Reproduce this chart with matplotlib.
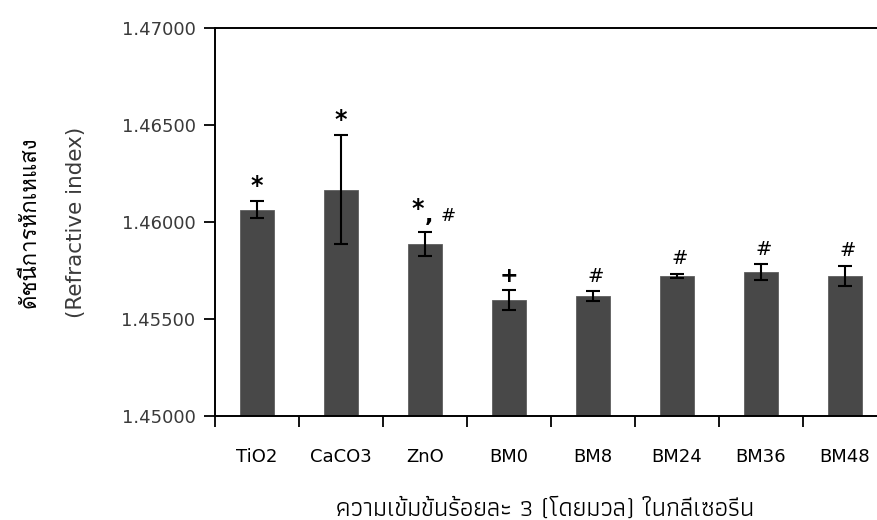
import matplotlib
matplotlib.use('Agg')
from matplotlib import pyplot as plt

categories = ['TiO2', 'CaCO3', 'ZnO', 'BM0', 'BM8', 'BM24', 'BM36', 'BM48']
values = [1.46064, 1.46167, 1.45888, 1.45598, 1.45617, 1.45721, 1.45741, 1.45721]
errors = [0.00046, 0.00280, 0.00062, 0.00051, 0.00025, 0.00011, 0.00041, 0.00052]
marks = ['*', '*', '*,#', '+', '#', '#', '#', '#']
y_ticks = [1.450, 1.455, 1.460, 1.465, 1.470]

thai_x = ['Athiti', 'Loma', 'DejaVu Sans']
thai_y = ['Loma', 'DejaVu Sans']

fig = plt.figure(figsize=(8.77, 5.2), dpi=100)
ax = fig.add_axes([0.2452, 0.2, 0.766, 0.7462])

x = list(range(len(categories)))
ax.bar(x, values, width=0.4, color='#484848', edgecolor='#5e5e5e', linewidth=0.6)
ax.errorbar(x, values, yerr=errors, fmt='none', ecolor='black', elinewidth=1.5,
            capsize=4.7, capthick=1.5)

# significance marks above the error bars
for xi, v, e, m in zip(x, values, errors, marks):
    if m == '*,#':
        ax.annotate('*', (xi, v + e), xytext=(-5, 8), textcoords='offset points',
                    ha='center', va='bottom', fontsize=17, fontweight='bold')
        ax.annotate(',', (xi, v + e), xytext=(3, 4), textcoords='offset points',
                    ha='center', va='bottom', fontsize=16, fontweight='bold')
        ax.annotate('#', (xi, v + e), xytext=(17, 5), textcoords='offset points',
                    ha='center', va='bottom', fontsize=13)
    elif m == '*':
        ax.annotate(m, (xi, v + e), xytext=(0, 2), textcoords='offset points',
                    ha='center', va='bottom', fontsize=17, fontweight='bold')
    elif m == '+':
        ax.annotate(m, (xi, v + e), xytext=(0, 3), textcoords='offset points',
                    ha='center', va='bottom', fontsize=16, fontweight='bold')
    else:
        ax.annotate(m, (xi, v + e), xytext=(2, 4), textcoords='offset points',
                    ha='center', va='bottom', fontsize=14)

ax.set_xlim(-0.5, len(categories) - 0.5)
ax.set_ylim(1.450, 1.470)
ax.set_yticks(y_ticks)
ax.set_yticklabels(['%.5f' % t for t in y_ticks], fontsize=13, color='#3a3a3a')
ax.set_xticks([i - 0.5 for i in range(len(categories) + 1)])
ax.set_xticklabels([])
ax.set_xticks(x, minor=True)
ax.set_xticklabels(categories, minor=True, fontsize=13)
ax.tick_params(axis='x', which='minor', length=0, pad=23)
ax.tick_params(axis='x', which='major', length=8, width=1.3, direction='out')
ax.tick_params(axis='y', length=8, width=1.3, direction='out', pad=6)

for side in ['left', 'bottom', 'top']:
    ax.spines[side].set_linewidth(1.4)
ax.spines['right'].set_visible(False)

ax.set_xlabel('ความเข้มข้นร้อยละ 3 (โดยมวล) ในกลีเซอรีน', fontsize=18.5,
              family=thai_x, va='center')
ax.xaxis.set_label_coords(0.491, -0.242)
fig.text(0.034, 0.573, 'ดัชนีการหักเหแสง', rotation=90, ha='center', va='center',
         fontsize=16, family=thai_y)
fig.text(0.087, 0.573, '(Refractive index)', rotation=90, ha='center', va='center',
         fontsize=15.5, color='#3a3a3a')

plt.savefig('out.png', dpi=100)
